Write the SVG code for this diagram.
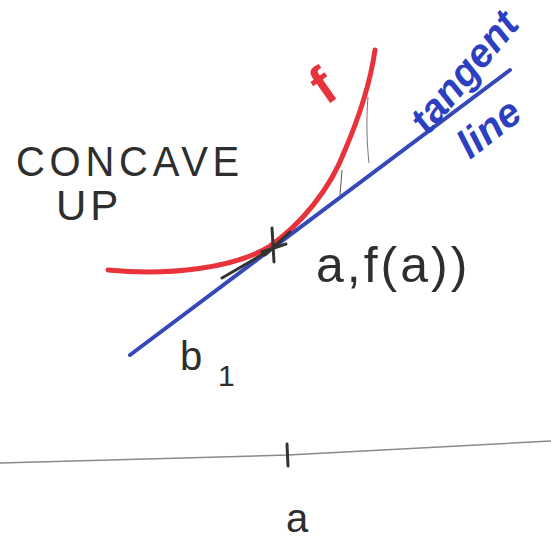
<svg xmlns="http://www.w3.org/2000/svg" width="551" height="541" viewBox="0 0 551 541">
<style>
.hand{font-family:"Liberation Sans","DejaVu Sans",sans-serif;fill:#2e2e2e}
.blue{fill:#2c3fc0;font-family:"Liberation Sans","DejaVu Sans",sans-serif;font-style:italic;font-weight:bold}
.red{fill:#e8323c;font-family:"Liberation Sans","DejaVu Sans",sans-serif;font-weight:bold}
</style>
<rect width="551" height="541" fill="#ffffff"/>
<g id="axis">
  <path d="M0,463 L288,455 L551,441" stroke="#8a8a8a" stroke-width="1.5" fill="none"/>
  <path d="M287,444 L288,466" stroke="#333" stroke-width="3" fill="none" stroke-linecap="round"/>
  <text class="hand" x="286" y="532" font-size="40">a</text>
</g>
<g id="connectors">
  <path id="curve-f" d="M108,270 C170,276 235,268 270,246 C300,225 330,190 345,150 C360,115 370,85 375,50" stroke="#e8323c" stroke-width="5" fill="none" stroke-linecap="round"/>
  <path id="tangent" d="M130,355 L510,70" stroke="#3246c4" stroke-width="4" fill="none" stroke-linecap="round"/>
  <path d="M130,355 L510,70" stroke="#4a5a6a" stroke-width="1" fill="none" opacity="0.6"/>
  <path d="M368,97 C366,120 367,145 369,163" stroke="#777" stroke-width="1" fill="none"/>
  <path d="M342,170 L340,195" stroke="#555" stroke-width="1" fill="none"/>
  <path d="M222,278 L270,250 L290,232 M265,255 L282,240 M272,228 L274,262 M262,252 L286,244" stroke="#333" stroke-width="3" fill="none" stroke-linecap="round"/>
</g>
<g id="concave-label">
  <text class="hand" x="16" y="176" font-size="42" letter-spacing="5" textLength="228" lengthAdjust="spacingAndGlyphs">CONCAVE</text>
  <text class="hand" x="56" y="220" font-size="42" letter-spacing="4">UP</text>
</g>
<g id="f-label">
  <text class="red" x="0" y="0" font-size="54" transform="translate(326,106) rotate(-35)">f</text>
</g>
<g id="tangent-label">
  <text class="blue" x="0" y="0" font-size="40" transform="translate(428,136) rotate(-50)">tangent</text>
  <text class="blue" x="0" y="0" font-size="40" transform="translate(470,160) rotate(-38)">line</text>
</g>
<g id="point-label">
  <text class="hand" x="316" y="282" font-size="50" letter-spacing="3">a,f(a))</text>
</g>
<g id="b1-label">
  <text class="hand" x="180" y="370" font-size="40">b</text>
  <text class="hand" x="218" y="386" font-size="30">1</text>
</g>
</svg>
